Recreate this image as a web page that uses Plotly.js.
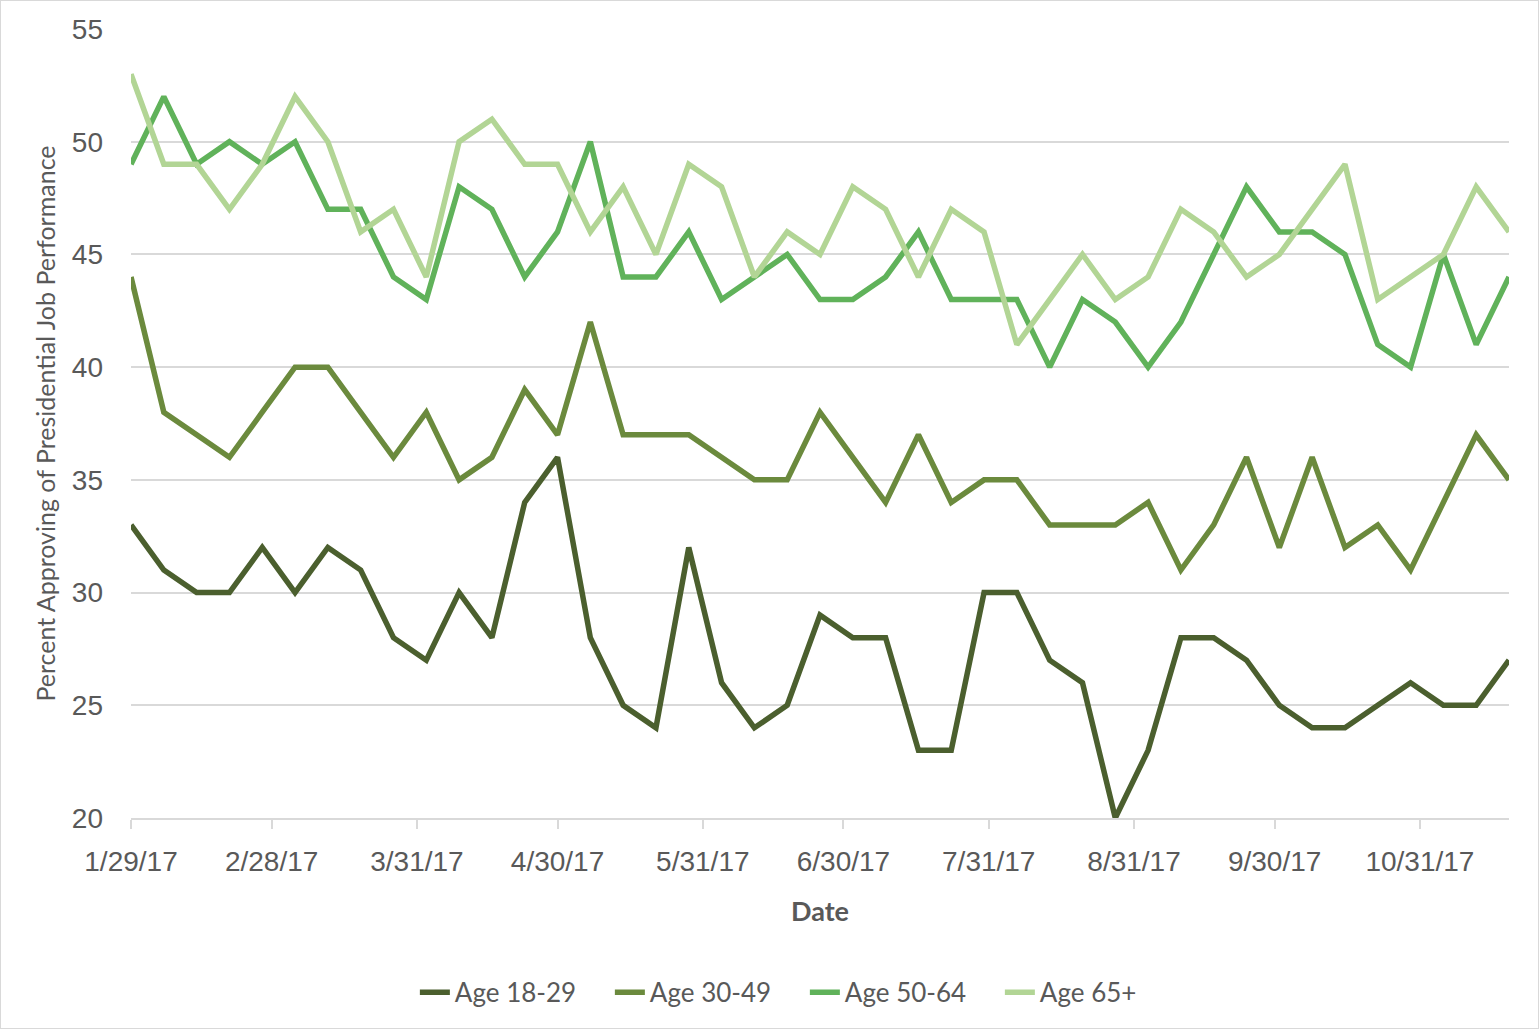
<!DOCTYPE html>
<html>
<head>
<meta charset="utf-8">
<script src="https://cdn.plot.ly/plotly-3.0.1.min.js"></script>
<style>
  html, body { margin: 0; padding: 0; background: #ffffff; }
  #chart { width: 1539px; height: 1029px; box-sizing: border-box; border: 1px solid #d9d9d9; }
</style>
</head>
<body>
<div id="chart"></div>
<script>
// Weekly survey dates
const dates = [
  '2017-01-29','2017-02-05','2017-02-12','2017-02-19','2017-02-26',
  '2017-03-05','2017-03-12','2017-03-19','2017-03-26',
  '2017-04-02','2017-04-09','2017-04-16','2017-04-23','2017-04-30',
  '2017-05-07','2017-05-14','2017-05-21','2017-05-28',
  '2017-06-04','2017-06-11','2017-06-18','2017-06-25',
  '2017-07-02','2017-07-09','2017-07-16','2017-07-23','2017-07-30',
  '2017-08-06','2017-08-13','2017-08-20','2017-08-27',
  '2017-09-03','2017-09-10','2017-09-17','2017-09-24',
  '2017-10-01','2017-10-08','2017-10-15','2017-10-22','2017-10-29',
  '2017-11-05','2017-11-12','2017-11-19'
];

const age18_29 = [33,31,30,30,32,30,32,31,28,27,30,28,34,36,28,25,24,32,26,24,25,29,28,28,23,23,30,30,27,26,20,23,28,28,27,25,24,24,25,26,25,25,27];
const age30_49 = [44,38,37,36,38,40,40,38,36,38,35,36,39,37,42,37,37,37,36,35,35,38,36,34,37,34,35,35,33,33,33,34,31,33,36,32,36,32,33,31,34,37,35];
const age50_64 = [49,52,49,50,49,50,47,47,44,43,48,47,44,46,50,44,44,46,43,44,45,43,43,44,46,43,43,43,40,43,42,40,42,45,48,46,46,45,41,40,45,41,44];
const age65plus = [53,49,49,47,49,52,50,46,47,44,50,51,49,49,46,48,45,49,48,44,46,45,48,47,44,47,46,41,43,45,43,44,47,46,44,45,47,49,43,44,45,48,46];

const seriesNames = ['Age 18-29','Age 30-49','Age 50-64','Age 65+'];
const seriesColors = ['#4b5f2e','#6b8a3d','#60b25a','#b2d595'];

const tickDates = ['2017-01-29','2017-02-28','2017-03-31','2017-04-30','2017-05-31','2017-06-30','2017-07-31','2017-08-31','2017-09-30','2017-10-31'];
const tickLabels = ['1/29/17','2/28/17','3/31/17','4/30/17','5/31/17','6/30/17','7/31/17','8/31/17','9/30/17','10/31/17'];

const allValues = [age18_29, age30_49, age50_64, age65plus];

const traces = allValues.map((vals, i) => ({
  type: 'scatter',
  mode: 'lines',
  x: dates,
  y: vals,
  name: seriesNames[i],
  line: { color: seriesColors[i], width: 5.5, shape: 'linear' },
  hoverinfo: 'x+y+name'
}));

const tickFont = { family: 'Liberation Sans, Arial, sans-serif', size: 28, color: '#595959' };

const layout = {
  width: 1537,
  height: 1027,
  paper_bgcolor: '#ffffff',
  plot_bgcolor: '#ffffff',
  margin: { l: 130, r: 29, t: 28, b: 208 },
  showlegend: true,
  legend: {
    orientation: 'h',
    x: 0.206,
    xanchor: 'left',
    y: -0.221,
    yanchor: 'middle',
    font: { family: 'Lato, sans-serif', size: 26, color: '#595959' },
    itemwidth: 30,
    entrywidth: 150,
    traceorder: 'normal'
  },
  xaxis: {
    type: 'date',
    range: ['2017-01-29', '2017-11-19'],
    tickmode: 'array',
    tickvals: tickDates,
    ticktext: tickLabels,
    tickfont: tickFont,
    ticks: 'outside',
    ticklen: 9,
    tickwidth: 1.5,
    tickcolor: '#d9d9d9',
    ticklabelstandoff: 9,
    showgrid: false,
    showline: true,
    linecolor: '#d9d9d9',
    linewidth: 1.5,
    zeroline: false,
    title: {
      text: 'Date',
      font: { family: 'Lato, sans-serif', size: 27, color: '#595959', weight: 'bold' },
      standoff: 26
    }
  },
  yaxis: {
    range: [20, 55],
    tickmode: 'linear',
    tick0: 20,
    dtick: 5,
    tickfont: tickFont,
    ticks: '',
    ticklabelstandoff: 27,
    showgrid: true,
    gridcolor: '#d9d9d9',
    gridwidth: 1.5,
    showline: false,
    zeroline: false,
    title: {
      text: 'Percent Approving of Presidential Job Performance',
      font: { family: 'Lato, sans-serif', size: 25, color: '#595959' },
      standoff: 9
    }
  }
};

Plotly.newPlot('chart', traces, layout, { displayModeBar: false, responsive: false });
</script>
</body>
</html>
